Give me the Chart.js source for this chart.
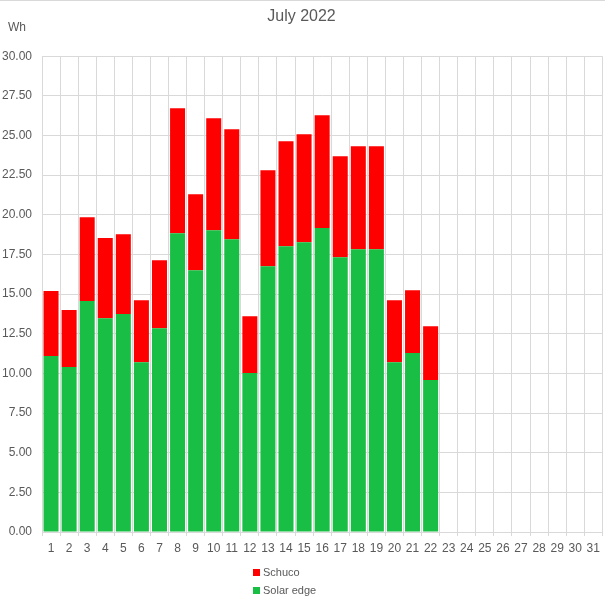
<!DOCTYPE html>
<html>
<head>
<meta charset="utf-8">
<script src="https://cdn.jsdelivr.net/npm/chart.js@4.4.0/dist/chart.umd.min.js"></script>
<style>
  html, body { margin: 0; padding: 0; background: #fff; }
  #wrap { position: relative; width: 605px; height: 600px; overflow: hidden; }
  #topline { position: absolute; left: 0; top: 0; width: 605px; height: 1px; background: #d9d9d9; }
  #unit { position: absolute; left: 8px; top: 20px; font: 12px "Liberation Sans", Arial, sans-serif; color: #595959; }
  #legend { position: absolute; left: 253px; top: 563px; font: 11px "Liberation Sans", Arial, sans-serif; color: #595959; }
  .item { height: 18px; line-height: 18px; white-space: nowrap; }
  .box { display: inline-block; width: 7px; height: 7px; margin-right: 3px; vertical-align: middle; position: relative; top: -1px; }
</style>
</head>
<body>
<div id="wrap">
  <canvas id="c" width="605" height="600"></canvas>
  <div id="topline"></div>
  <div id="unit">Wh</div>
  <div id="legend"></div>
</div>
<script>
const days = ['1','2','3','4','5','6','7','8','9','10','11','12','13','14','15','16','17','18','19','20','21','22','23','24','25','26','27','28','29','30','31'];
const solarEdge = [11.09,10.40,14.56,13.48,13.74,10.71,12.85,18.84,16.51,19.03,18.46,10.02,16.76,18.02,18.27,19.16,17.33,17.83,17.83,10.71,11.28,9.58,null,null,null,null,null,null,null,null,null];
const schuco = [4.10,3.59,5.29,5.05,5.04,3.91,4.29,7.88,4.79,7.06,6.93,3.59,6.05,6.62,6.81,7.12,6.36,6.49,6.49,3.91,3.97,3.40,null,null,null,null,null,null,null,null,null];
const yTicks = [0,2.5,5,7.5,10,12.5,15,17.5,20,22.5,25,27.5,30];

const FONT = '"Liberation Sans", Arial, sans-serif';
const GRID = '#d9d9d9';
const TXT = '#595959';

const chart = new Chart(document.getElementById('c'), {
  type: 'bar',
  data: {
    labels: days,
    datasets: [
      { label: 'Solar edge', data: solarEdge, backgroundColor: '#19bf44', barPercentage: 0.83, categoryPercentage: 1 },
      { label: 'Schuco', data: schuco, backgroundColor: '#ff0000', barPercentage: 0.83, categoryPercentage: 1 }
    ]
  },
  options: {
    responsive: false,
    animation: false,
    devicePixelRatio: 1,
    layout: { padding: { left: 0, right: 2, top: 0, bottom: 38 } },
    plugins: {
      legend: { display: false },
      tooltip: { enabled: false },
      title: {
        display: true, text: 'July 2022', color: TXT,
        font: { family: FONT, size: 16, weight: 'normal' },
        padding: { top: 7, bottom: 30 }
      }
    },
    scales: {
      x: {
        stacked: true,
        grid: { color: GRID, offset: true, tickLength: 4, tickColor: GRID },
        border: { color: GRID },
        ticks: { color: TXT, font: { family: FONT, size: 12 }, padding: 5, maxRotation: 0, autoSkip: false },
        afterFit: s => { s.height = 30; }
      },
      y: {
        stacked: true,
        min: 0, max: 30,
        grid: { color: GRID, tickLength: 0 },
        border: { color: GRID },
        afterBuildTicks: s => { s.ticks = yTicks.map(v => ({ value: v })); },
        ticks: { color: TXT, font: { family: FONT, size: 12 }, padding: 10, callback: v => Number(v).toFixed(2) },
        afterFit: s => { s.width = 42; }
      }
    }
  }
});

const lg = document.getElementById('legend');
chart.data.datasets.slice().reverse().forEach(ds => {
  const d = document.createElement('div');
  d.className = 'item';
  const b = document.createElement('span');
  b.className = 'box';
  b.style.background = ds.backgroundColor;
  d.appendChild(b);
  d.appendChild(document.createTextNode(ds.label));
  lg.appendChild(d);
});
</script>
</body>
</html>
